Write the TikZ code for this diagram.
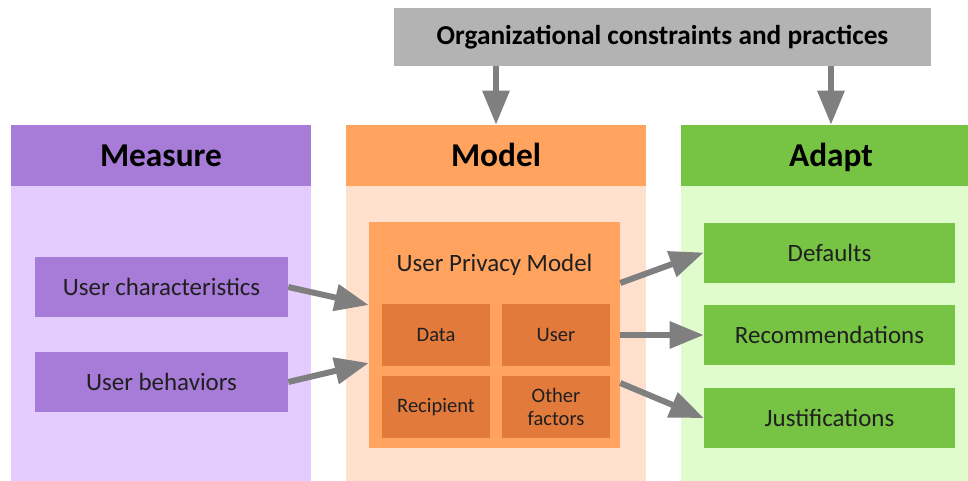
\documentclass[tikz,border=0pt]{standalone}
\usepackage{fontspec}
\setmainfont{Carlito}
\usetikzlibrary{arrows.meta}
\definecolor{measurehead}{HTML}{A77BD8}
\definecolor{measurebody}{HTML}{E5CCFF}
\definecolor{modelhead}{HTML}{FFA35F}
\definecolor{modelbody}{HTML}{FFE0CC}
\definecolor{modelsub}{HTML}{E27A3C}
\definecolor{adapthead}{HTML}{77C344}
\definecolor{adaptbody}{HTML}{E0FCCC}
\definecolor{orggray}{HTML}{B3B3B3}
\definecolor{arrowgray}{HTML}{7F7F7F}
\definecolor{textdark}{HTML}{1F1F1F}

\begin{document}
\begin{tikzpicture}[x=0.75pt,y=-0.75pt,
  box/.style={rectangle,inner sep=0pt,align=center,text=textdark},
  head/.style={box,minimum width=225pt,minimum height=45.75pt,text height=16.8pt,text depth=0pt,text=black,font=\fontsize{25}{29}\selectfont\bfseries},
  body/.style={box,minimum width=225pt,minimum height=225pt},
  item/.style={box,minimum width=189.75pt,minimum height=45pt,font=\fontsize{18.7}{22}\selectfont},
  sub/.style={box,fill=modelsub,minimum width=81pt,minimum height=46.5pt,font=\fontsize{15.4}{17.5}\selectfont},
  arr/.style={-{Triangle[length=25.5pt,width=19.5pt]},line width=4.5pt,draw=arrowgray}]
	\clip (0,0) rectangle (968,480);
	\node[box,fill=orggray,minimum width=402.75pt,minimum height=43.5pt,text=black,font=\fontsize{20.5}{24}\selectfont\bfseries] (org) at (662.5,37) {Organizational constraints and practices};
	\node[body,fill=measurebody] (mbody) at (161,336) {};
	\node[body,fill=modelbody] (obody) at (496,336) {};
	\node[body,fill=adaptbody] (abody) at (831,336) {};
	\node[head,fill=measurehead] (mhead) at (161,155.5) {Measure};
	\node[head,fill=modelhead] (ohead) at (496,155.5) {Model};
	\node[head,fill=adapthead] (ahead) at (831,155.5) {Adapt};
	\node[item,fill=measurehead] (uchar) at (161.5,287) {User characteristics};
	\node[item,fill=measurehead] (ubehav) at (161.5,382) {User behaviors};
	\node[box,fill=modelhead,minimum width=188.25pt,minimum height=169.5pt] (upm) at (494.5,335) {};
	\node[box,font=\fontsize{18.7}{22}\selectfont] (upmlabel) at (494.5,265) {User Privacy Model};
	\node[sub] (data) at (436,335) {Data};
	\node[sub] (user) at (556,335) {User};
	\node[sub] (recip) at (436,407) {Recipient};
	\node[sub] (other) at (556,407) {Other\\factors};
	\node[item,fill=adapthead,minimum width=188.25pt] (defaults) at (829.5,252.5) {Defaults};
	\node[item,fill=adapthead,minimum width=188.25pt] (recom) at (829.5,335) {Recommendations};
	\node[item,fill=adapthead,minimum width=188.25pt] (justif) at (829.5,418) {Justifications};
	\draw[arr] (org.south -| ohead) -- (ohead.north);
	\draw[arr] (org.south -| ahead) -- (ahead.north);
	\draw[arr] (uchar.east) -- ([yshift=22.5pt]upm.west);
	\draw[arr] (ubehav.east) -- ([yshift=-21pt]upm.west);
	\draw[arr] ([yshift=39pt]upm.east) -- (defaults.west);
	\draw[arr] (upm.east) -- (recom.west);
	\draw[arr] ([yshift=-36pt]upm.east) -- (justif.west);
\end{tikzpicture}
\end{document}
